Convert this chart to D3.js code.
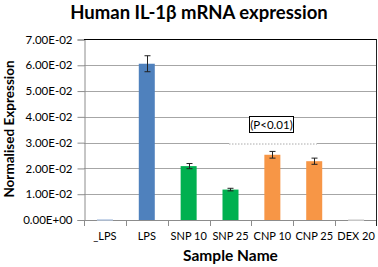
<!DOCTYPE html>
<html>
<head>
<meta charset="utf-8">
<script src="https://cdn.jsdelivr.net/npm/d3@7"></script>
<style>
  body { margin: 0; background: #fff; }
  text { font-family: Lato, "Open Sans", sans-serif; fill: #000; }
</style>
</head>
<body>
<div id="chart"></div>
<script>
// values
var categories = ['_LPS', 'LPS', 'SNP 10', 'SNP 25', 'CNP 10', 'CNP 25', 'DEX 20'];
var values = [0.0003, 0.0606, 0.0209, 0.0118, 0.0253, 0.0228, 0.0002];
var errors = [0.0001, 0.0031, 0.0010, 0.0005, 0.0013, 0.0012, 0.0000];
var barColors = ['#b9cbe4', '#4f81bd', '#00b050', '#00b050', '#f79646', '#f79646', '#c8c8c8'];
var yTicks = [0, 0.01, 0.02, 0.03, 0.04, 0.05, 0.06, 0.07];

var width = 378, height = 267;
var plotLeft = 84, plotRight = 377, plotTop = 39.5, plotBottom = 220;

var svg = d3.select('#chart').append('svg')
    .attr('width', width)
    .attr('height', height);

var x = d3.scaleBand().domain(categories).range([plotLeft, plotRight]).padding(0);
var y = d3.scaleLinear().domain([0, 0.07]).range([plotBottom, plotTop]);

function sci(d) {
    if (d == 0) return '0.00E+00';
    var p = d.toExponential(2).split('e');
    var e = +p[1];
    return p[0] + 'E' + (e < 0 ? '-' : '+') + (Math.abs(e) < 10 ? '0' : '') + Math.abs(e);
}

// gridlines
svg.append('g').selectAll('line')
    .data(yTicks.slice(1, -1))
    .join('line')
    .attr('x1', plotLeft).attr('x2', plotRight)
    .attr('y1', d => Math.round(y(d)) + 0.5).attr('y2', d => Math.round(y(d)) + 0.5)
    .attr('stroke', '#a6a6a6');

// y axis
var yAxis = svg.append('g')
    .attr('transform', 'translate(' + (plotLeft + 0.5) + ',0)')
    .call(d3.axisLeft(y).tickValues(yTicks).tickFormat(sci).tickSize(7).tickPadding(5));
yAxis.select('.domain').attr('stroke', '#8c8c8c');
yAxis.selectAll('.tick line').attr('stroke', '#8c8c8c');
yAxis.selectAll('text').style('font-size', '11.5px').style('font-family', 'Lato, sans-serif');

// x axis baseline and ticks between categories
svg.append('line')
    .attr('x1', plotLeft).attr('x2', plotRight)
    .attr('y1', plotBottom + 0.5).attr('y2', plotBottom + 0.5)
    .attr('stroke', '#8c8c8c');
svg.append('g').selectAll('line')
    .data(categories.slice(1))
    .join('line')
    .attr('x1', d => Math.round(x(d)) + 0.5).attr('x2', d => Math.round(x(d)) + 0.5)
    .attr('y1', plotBottom).attr('y2', plotBottom + 6)
    .attr('stroke', '#8c8c8c');
svg.append('line')
    .attr('x1', plotLeft + 0.5).attr('x2', plotLeft + 0.5)
    .attr('y1', plotBottom).attr('y2', plotBottom + 6)
    .attr('stroke', '#8c8c8c');

svg.append('g').selectAll('text')
    .data(categories)
    .join('text')
    .attr('x', d => x(d) + x.bandwidth() / 2)
    .attr('y', 240)
    .attr('text-anchor', 'middle')
    .style('font-size', '11px')
    .text(d => d);

// border top and right
svg.append('line')
    .attr('x1', plotLeft).attr('x2', plotRight)
    .attr('y1', plotTop).attr('y2', plotTop)
    .attr('stroke', '#000').attr('stroke-width', 1.2);
svg.append('line')
    .attr('x1', plotRight - 0.5).attr('x2', plotRight - 0.5)
    .attr('y1', plotTop).attr('y2', plotBottom + 6)
    .attr('stroke', '#222');

// bars
var bw = 16;
var data = categories.map((c, i) => ({ c: c, v: values[i], e: errors[i], col: barColors[i] }));
svg.append('g').selectAll('rect')
    .data(data)
    .join('rect')
    .attr('x', d => x(d.c) + x.bandwidth() / 2 - bw / 2)
    .attr('width', bw)
    .attr('y', d => y(d.v))
    .attr('height', d => Math.max(1.5, plotBottom - y(d.v)))
    .attr('fill', d => d.col);

// error bars
var eb = svg.append('g').attr('stroke', '#222').attr('stroke-width', 1);
data.filter(d => d.e > 0.0002).forEach(function (d) {
    var cx = Math.round(x(d.c) + x.bandwidth() / 2) + 0.5;
    eb.append('line').attr('x1', cx).attr('x2', cx).attr('y1', y(d.v + d.e)).attr('y2', y(d.v - d.e));
    eb.append('line').attr('x1', cx - 3).attr('x2', cx + 3).attr('y1', y(d.v + d.e)).attr('y2', y(d.v + d.e));
    eb.append('line').attr('x1', cx - 3).attr('x2', cx + 3).attr('y1', y(d.v - d.e)).attr('y2', y(d.v - d.e));
});

// significance annotation
var gy = Math.round(y(0.03)) + 0.5;
svg.append('line')
    .attr('x1', 229).attr('x2', 317).attr('y1', gy).attr('y2', gy)
    .attr('stroke', '#fff').attr('stroke-width', 1.5);
svg.append('line')
    .attr('x1', 229).attr('x2', 317).attr('y1', gy + 0.5).attr('y2', gy + 0.5)
    .attr('stroke', '#aaa').attr('stroke-dasharray', '1.5,1.5');
svg.append('rect')
    .attr('x', 249.5).attr('y', 116.5).attr('width', 44).attr('height', 16)
    .attr('fill', '#fff').attr('stroke', '#000');
svg.append('text')
    .attr('x', 271.5).attr('y', 128.5)
    .attr('text-anchor', 'middle')
    .style('font-size', '11.5px')
    .text('(P<0.01)');

// titles
svg.append('text')
    .attr('x', 199).attr('y', 19)
    .attr('text-anchor', 'middle')
    .style('font-size', '18.5px').style('font-weight', 'bold')
    .text('Human IL-1β mRNA expression');
svg.append('text')
    .attr('transform', 'translate(14,' + 129 + ') rotate(-90)')
    .attr('text-anchor', 'middle')
    .style('font-size', '13.5px').style('font-weight', 'bold')
    .text('Normalised Expression');
svg.append('text')
    .attr('x', 230.5).attr('y', 261)
    .attr('text-anchor', 'middle')
    .style('font-size', '15.5px').style('font-weight', 'bold')
    .text('Sample Name');
</script>
</body>
</html>
